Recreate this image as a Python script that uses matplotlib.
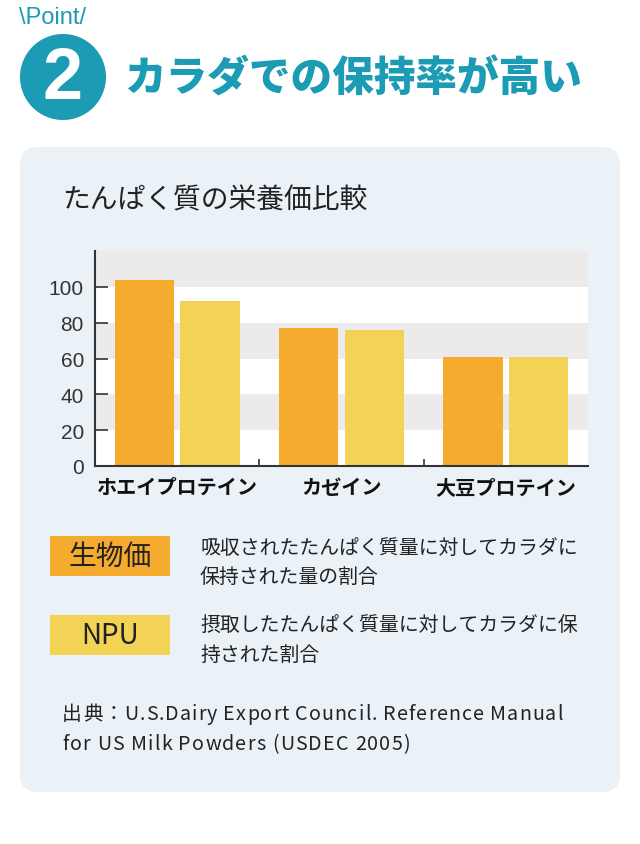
import numpy as np
import matplotlib
matplotlib.use('Agg')
import matplotlib.pyplot as plt
from matplotlib.patches import FancyBboxPatch, Circle, Rectangle

plt.rcParams['font.family'] = ['Noto Sans CJK JP', 'DejaVu Sans']

# data
categories = ['ホエイプロテイン', 'カゼイン', '大豆プロテイン']
bio_value = [104, 77, 61]
npu_value = [92, 76, 61]
y_ticks = [0, 20, 40, 60, 80, 100]

source_lines = ['出典：U.S.Dairy Export Council. Reference Manual',
                'for US Milk Powders (USDEC 2005)']

teal = '#1B9BB4'
orange = '#F5AB2E'
yellow = '#F3D356'
band = '#EDEAEB'
card = '#EAF2F7'

fig = plt.figure(figsize=(6.4, 8.45), dpi=100)
renderer = fig.canvas.get_renderer()

# background layer in pixel coordinates
bg = fig.add_axes([0, 0, 1, 1])
bg.set_xlim(0, 640)
bg.set_ylim(845, 0)
bg.axis('off')
bg.set_zorder(0)


def tracked_text(x, y, s, track, **kw):
    # draw text one char at a time with extra letter spacing (px)
    for ch in s:
        t = bg.text(x, y, ch, ha='left', va='center', **kw)
        w = t.get_window_extent(renderer).width
        x += w + track


bg.add_patch(FancyBboxPatch((20, 148), 600, 645, boxstyle='round,pad=0,rounding_size=18',
                            fc=card, ec='none'))

# header
bg.text(19, 18, '\\Point/', color=teal, fontsize=17, family='Liberation Sans',
        ha='left', va='center')
bg.add_patch(Circle((63, 78), 43, fc=teal, ec='none'))
bg.text(63, 80, '2', color='white', fontsize=52, fontweight='heavy', family='Liberation Sans',
        ha='center', va='center')
bg.text(124, 80, 'カラダでの保持率が高い', color=teal, fontsize=30, fontweight='heavy',
        ha='left', va='center')

bg.text(62, 200, 'たんぱく質の栄養価比較', color='#222222', fontsize=20,
        ha='left', va='center')

# legend
bg.add_patch(Rectangle((50, 537), 120, 40, fc=orange, ec='none'))
bg.text(110, 557, '生物価', fontsize=20, color='#222222', ha='center', va='center')
bg.add_patch(Rectangle((50, 616), 120, 40, fc=yellow, ec='none'))
bg.text(110, 636, 'NPU', fontsize=20, color='#222222', ha='center', va='center')

bg.text(200, 548, '吸収されたたんぱく質量に対してカラダに', fontsize=14.3, color='#222222',
        ha='left', va='center')
bg.text(200, 577, '保持された量の割合', fontsize=14.3, color='#222222', ha='left', va='center')
bg.text(200, 626, '摂取したたんぱく質量に対してカラダに保', fontsize=14.3, color='#222222',
        ha='left', va='center')
bg.text(200, 655, '持された割合', fontsize=14.3, color='#222222', ha='left', va='center')

tracked_text(62, 715, source_lines[0], 1.0, fontsize=14.2, color='#222222')
tracked_text(62, 745, source_lines[1], 1.15, fontsize=14.2, color='#222222')

# bar chart
ax = fig.add_axes([95 / 640, 1 - 467 / 845, (588 - 95) / 640, (467 - 252) / 845])
ax.set_zorder(1)
ax.set_facecolor('white')
for lo in [20, 60, 100]:
    ax.axhspan(lo, lo + 20, color=band, lw=0, zorder=0)

x = np.arange(len(categories))
ax.bar(x - 0.2, bio_value, width=0.36, color=orange, zorder=2)
ax.bar(x + 0.2, npu_value, width=0.36, color=yellow, zorder=2)

ax.set_xlim(-0.5, 2.5)
ax.set_ylim(0, 120)
for s in ['top', 'right']:
    ax.spines[s].set_visible(False)
for s in ['left', 'bottom']:
    ax.spines[s].set_color('#333333')
    ax.spines[s].set_linewidth(1.5)
    ax.spines[s].set_zorder(3)

ax.set_yticks(y_ticks)
ax.set_yticklabels([str(v) for v in y_ticks], family='Liberation Sans', fontsize=15,
                   color='#333333')
ax.tick_params(axis='y', direction='in', length=9, width=1.2, color='#333333', pad=8)

ax.set_xticks(x)
ax.set_xticklabels(categories, fontsize=14.5, fontweight='bold', color='#111111')
ax.tick_params(axis='x', length=0, pad=7)
ax.set_xticks([0.5, 1.5], minor=True)
ax.tick_params(axis='x', which='minor', direction='in', length=5, width=1.2, color='#333333')

fig.savefig('out.png', dpi=100)
